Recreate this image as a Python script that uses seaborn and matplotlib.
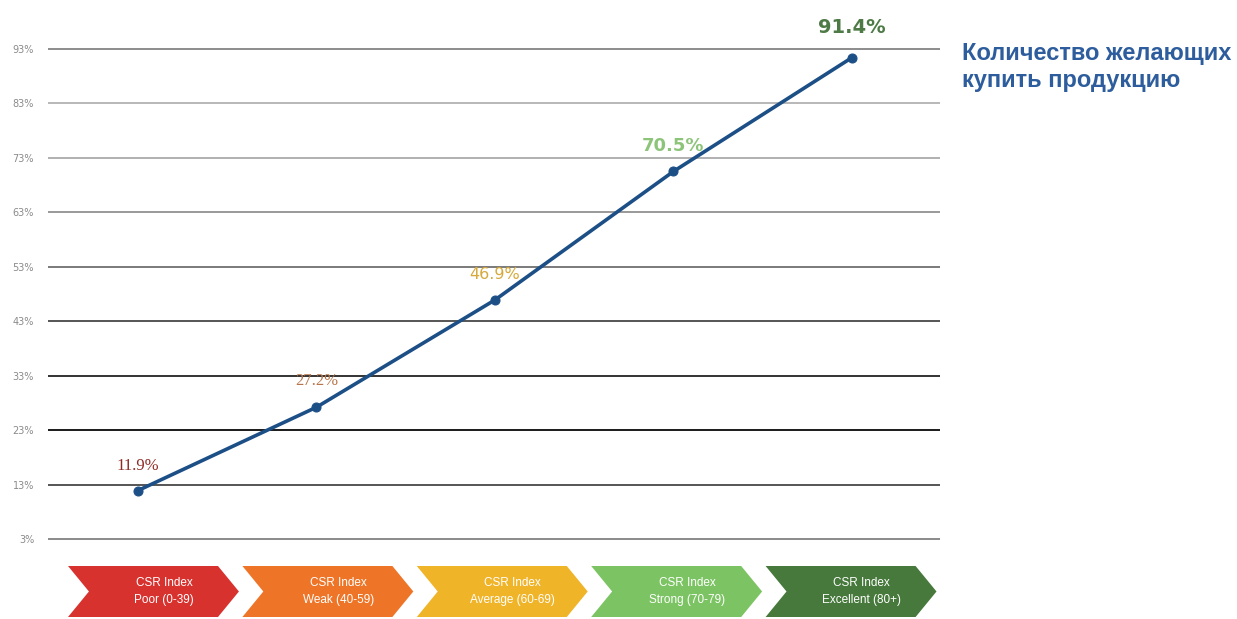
import matplotlib
matplotlib.use("Agg")
import matplotlib.pyplot as plt
from matplotlib.patches import Polygon
import seaborn as sns
import pandas as pd

# CSR index groups and share of customers willing to buy (%)
categories = ["Poor (0-39)", "Weak (40-59)", "Average (60-69)", "Strong (70-79)", "Excellent (80+)"]
buy_share = [11.9, 27.2, 46.9, 70.5, 91.4]
value_labels = ["11.9%", "27.2%", "46.9%", "70.5%", "91.4%"]
y_ticks = [3, 13, 23, 33, 43, 53, 63, 73, 83, 93]
y_tick_labels = ["3%", "13%", "23%", "33%", "43%", "53%", "63%", "73%", "83%", "93%"]
series_title = "Количество желающих\nкупить продукцию"

band_colors = ["#d8322f", "#ee7527", "#f0b429", "#7cc463", "#46793b"]
label_colors = ["#8e2b25", "#b87448", "#d6a93a", "#8cc47a", "#4d7a45"]
grid_colors = ["#8a8a8a", "#555555", "#1a1a1a", "#333333", "#555555",
               "#7a7a7a", "#999999", "#b0b0b0", "#b8b8b8", "#8c8c8c"]

sns.set_theme(style="white")
plt.rcParams["font.family"] = ["DejaVu Sans"]

fig = plt.figure(figsize=(12.37, 6.19), dpi=100)
W, H = 1237, 619
ax = fig.add_axes([48 / W, 1 - 545 / H, (940 - 48) / W, (545 - 20) / H])

df = pd.DataFrame({"idx": range(len(categories)), "share": buy_share})

for yv, gc in zip(y_ticks, grid_colors):
    ax.axhline(yv, color=gc, lw=1.4, zorder=1)

sns.lineplot(data=df, x="idx", y="share", ax=ax, color="#1d4f87", lw=2.6,
             marker="o", markersize=6.5, markeredgecolor="#1d4f87", zorder=3)

label_fonts = [
    dict(family="Liberation Serif", size=12, weight="normal"),
    dict(family="Liberation Serif", size=12, weight="normal"),
    dict(family="DejaVu Sans", size=11.5, weight="normal"),
    dict(family="DejaVu Sans", size=13, weight="bold"),
    dict(family="DejaVu Sans", size=14, weight="bold"),
]
offsets = [12, 13, 13, 12, 15]
for i, (v, t) in enumerate(zip(buy_share, value_labels)):
    ax.annotate(t, (i, v), xytext=(0, offsets[i]), textcoords="offset points",
                ha="center", va="bottom", color=label_colors[i], zorder=4,
                annotation_clip=False, **label_fonts[i])

ax.set_xlim(-0.504, 4.493)
ax.set_ylim(1.9, 98.3)
ax.set_yticks(y_ticks)
ax.set_yticklabels(y_tick_labels, fontsize=7, color="#8a8a8a")
ax.tick_params(axis="y", length=0, pad=10)
ax.set_xticks([])
ax.set_xlabel("")
ax.set_ylabel("")
for s in ax.spines.values():
    s.set_visible(False)

fig.text(962 / W, 1 - 42 / H, series_title, ha="left", va="top",
         fontsize=17, fontweight="bold", color="#2d5d9c", linespacing=1.2,
         family=["Liberation Sans Narrow", "Liberation Sans", "DejaVu Sans"])

# chevron band under the chart: one arrow per CSR group
bx = fig.add_axes([68 / W, 1 - 617 / H, (940 - 68) / W, (617 - 566) / H])
bx.set_xlim(0, len(categories))
bx.set_ylim(0, 1)
bx.axis("off")
tip = 0.12
for i, (cat, col) in enumerate(zip(categories, band_colors)):
    x0 = i
    x1 = i + 0.98 - tip
    pts = [(x0, 1), (x1, 1), (x1 + tip, 0.5), (x1, 0), (x0, 0), (x0 + tip, 0.5)]
    bx.add_patch(Polygon(pts, closed=True, facecolor=col, edgecolor="none", clip_on=False))
    bx.text((x0 + x1) / 2 + tip, 0.5, "CSR Index\n" + cat, ha="center", va="center",
            color="white", fontsize=8.5, linespacing=1.5,
            family=["Liberation Sans", "DejaVu Sans"])

fig.savefig("out.png", dpi=100, facecolor="white")
